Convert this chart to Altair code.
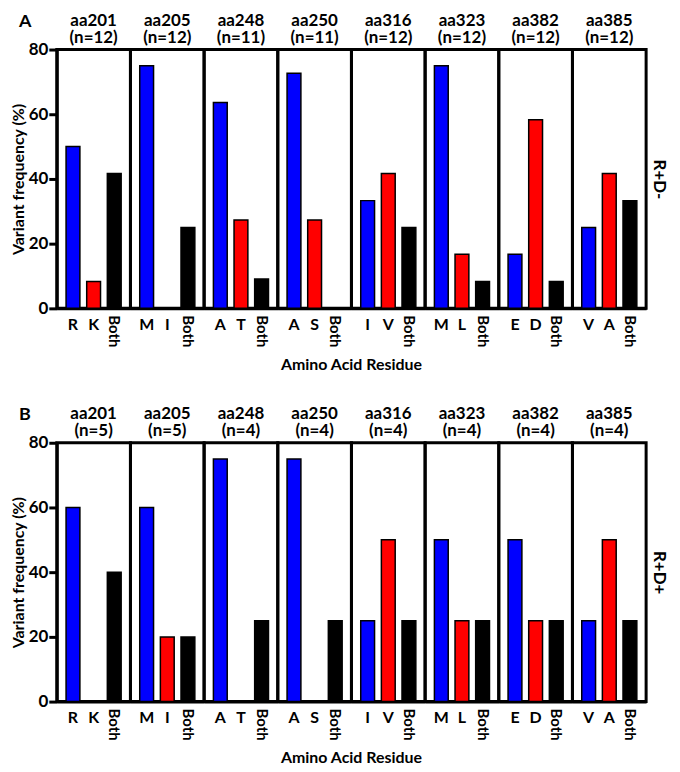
import altair as alt
import pandas as pd

# ---------------- data ----------------
sites = ["aa201", "aa205", "aa248", "aa250", "aa316", "aa323", "aa382", "aa385"]
res1 = ["R", "M", "A", "A", "I", "M", "E", "V"]
res2 = ["K", "I", "T", "S", "V", "L", "D", "A"]

# Panel A : R+D-
nA = [12, 12, 11, 11, 12, 12, 12, 12]
A_first = [50.0, 75.0, 63.6, 72.7, 33.3, 75.0, 16.7, 25.0]
A_second = [8.3, 0.0, 27.3, 27.3, 41.7, 16.7, 58.3, 41.7]
A_both = [41.7, 25.0, 9.1, 0.0, 25.0, 8.3, 8.3, 33.3]

# Panel B : R+D+
nB = [5, 5, 4, 4, 4, 4, 4, 4]
B_first = [60.0, 60.0, 75.0, 75.0, 25.0, 50.0, 50.0, 25.0]
B_second = [0.0, 20.0, 0.0, 0.0, 50.0, 25.0, 25.0, 50.0]
B_both = [40.0, 20.0, 25.0, 25.0, 25.0, 25.0, 25.0, 25.0]

y_ticks = [0, 20, 40, 60, 80]
x_title = "Amino Acid Residue"

# ---------------- style ----------------
FONT = "Lato"
W = 74
H = 260
BLUE = "#0000ff"
RED = "#ff0000"
BLACK = "#000000"


def txt(**kw):
    d = dict(font=FONT, fontWeight="bold", color=BLACK)
    d.update(kw)
    return d


def panel(i, first, second, both, n, tag, side):
    df = pd.DataFrame({
        "residue": [res1[i], res2[i], "Both"],
        "kind": ["first", "second", "both"],
        "freq": [first[i], second[i], both[i]],
    })
    order = [res1[i], res2[i], "Both"]
    xenc = alt.X(
        "residue:N",
        scale=alt.Scale(domain=order, paddingInner=0.33, paddingOuter=0.45),
        axis=alt.Axis(
            title=None, labelAngle=0,
            labelExpr="datum.value == 'Both' ? '' : datum.value",
            labelFont=FONT, labelFontSize=16, labelFontWeight="bold",
            labelColor=BLACK, labelPadding=8, ticks=False,
            domainColor=BLACK, domainWidth=3, grid=False,
        ),
    )
    if i == 0:
        yaxis = alt.Axis(
            title="Variant frequency (%)", values=y_ticks, tickSize=8,
            tickWidth=3, tickColor=BLACK, domainColor=BLACK, domainWidth=3,
            labelFont=FONT, labelFontSize=17, labelFontWeight="bold",
            labelColor=BLACK, labelPadding=1, titleFont=FONT,
            titleFontSize=16, titleFontWeight="bold", titleColor=BLACK,
            titlePadding=2, grid=False,
        )
    elif i == len(sites) - 1:
        yaxis = alt.Axis(
            orient="right", title=side, titleAngle=90, labels=False,
            ticks=False, domain=False, grid=False, titleFont=FONT,
            titleFontSize=17, titleFontWeight="bold", titleColor=BLACK,
            titlePadding=3,
        )
    else:
        yaxis = None
    yenc = alt.Y("freq:Q", scale=alt.Scale(domain=[0, 80], nice=False), axis=yaxis)

    base = alt.Chart(df).encode(x=xenc, y=yenc)
    bars = base.transform_filter("datum.freq > 0").mark_bar(
        stroke=BLACK, strokeWidth=1.5
    ).encode(
        color=alt.Color(
            "kind:N",
            scale=alt.Scale(domain=["first", "second", "both"], range=[BLUE, RED, BLACK]),
            legend=None,
        )
    )
    both_lbl = base.transform_filter("datum.residue == 'Both'").mark_text(
        **txt(angle=90, align="left", baseline="middle", fontSize=15)
    ).encode(text="residue:N", y=alt.value(H + 7))

    head = pd.DataFrame({"head": [f"{sites[i]}\n(n={n[i]})"]})
    hdr = alt.Chart(head).mark_text(
        **txt(align="center", baseline="top", fontSize=17, lineBreak="\n", lineHeight=17)
    ).encode(text="head:N", x=alt.value(W / 2), y=alt.value(-37))

    layers = [bars, both_lbl, hdr]
    if i == 0:
        tag_df = pd.DataFrame({"t": [tag]})
        layers.append(alt.Chart(tag_df).mark_text(
            **txt(align="left", baseline="top", fontSize=18)
        ).encode(text="t:N", x=alt.value(-38), y=alt.value(-37)))
    if i == 3:
        xt_df = pd.DataFrame({"t": [x_title]})
        layers.append(alt.Chart(xt_df).mark_text(
            **txt(align="center", baseline="middle", fontSize=16)
        ).encode(text="t:N", x=alt.value(W), y=alt.value(H + 57)))
    return alt.layer(*layers).properties(width=W, height=H)


def row(first, second, both, n, tag, side):
    panels = [panel(i, first, second, both, n, tag, side) for i in range(len(sites))]
    return alt.hconcat(*panels, spacing=0, bounds="flush").resolve_scale(
        x="independent", y="independent", color="independent"
    )


rowA = row(A_first, A_second, A_both, nA, "A", "R+D-")
rowB = row(B_first, B_second, B_both, nB, "B", "R+D+")

chart = alt.vconcat(
    rowA, rowB, spacing=28,
    padding={"left": 0, "top": 0, "right": 3, "bottom": 0},
).configure_view(stroke=BLACK, strokeWidth=3)

chart.save("out.html", embed_options={"renderer": "svg", "actions": False})
